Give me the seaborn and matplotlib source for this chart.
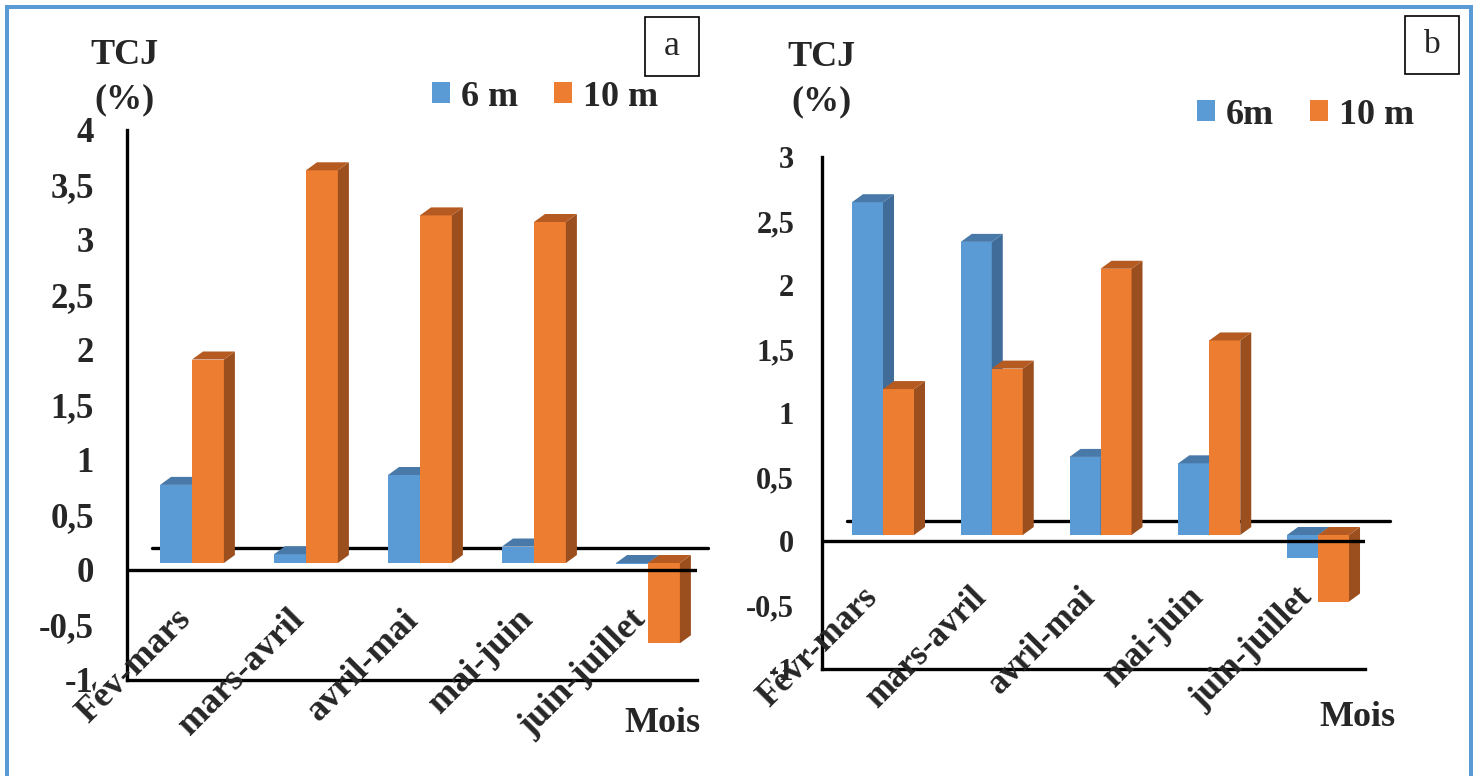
import numpy as np
import pandas as pd
import matplotlib
matplotlib.use("Agg")
import matplotlib.pyplot as plt
import seaborn as sns
from matplotlib.patches import Rectangle, Polygon
from matplotlib.transforms import ScaledTranslation

# ---------------- data ----------------
mois_a = ["Fév-mars", "mars-avril", "avril-mai", "mai-juin", "juin-juillet"]
mois_b = ["Févr-mars", "mars-avril", "avril-mai", "mai-juin", "juin-juillet"]
series_a = ["6 m", "10 m"]
series_b = ["6m", "10 m"]
tcj_a_6m = [0.71, 0.08, 0.80, 0.15, -0.01]
tcj_a_10m = [1.85, 3.57, 3.16, 3.10, -0.73]
tcj_b_6m = [2.60, 2.29, 0.61, 0.56, -0.18]
tcj_b_10m = [1.14, 1.30, 2.08, 1.52, -0.52]
yticks_a = [-1, -0.5, 0, 0.5, 1, 1.5, 2, 2.5, 3, 3.5, 4]
yticks_b = [-1, -0.5, 0, 0.5, 1, 1.5, 2, 2.5, 3]
ylabel_lines = ["TCJ", "(%)"]
xlabel = "Mois"
panel_tags = ["a", "b"]

# ---------------- style ----------------
W, H, DPI = 1480, 776, 100
BLUE, ORANGE = "#5B9BD5", "#ED7D31"
SIDE = {BLUE: "#3F6C98", ORANGE: "#9C4F1E"}
TOP = {BLUE: "#4879A8", ORANGE: "#B55B22"}
DEPTH_X, DEPTH_Y = 11, 8

sns.set_style("white")
plt.rcParams["font.family"] = ["Liberation Serif", "DejaVu Serif"]
plt.rcParams["font.weight"] = "bold"

fig = plt.figure(figsize=(W / DPI, H / DPI), dpi=DPI)


def fx(px):
    return px / W


def fy(py):
    return 1 - py / H


def add_depth(ax, container, color, lift, z):
    tr = ax.transData + ScaledTranslation(0, lift / DPI, fig.dpi_scale_trans)
    p0 = ax.transData.transform((0, 0))
    p1 = ax.transData.transform((1, 1))
    ddx = DEPTH_X / (p1[0] - p0[0])
    ddy = DEPTH_Y / (p1[1] - p0[1])
    for bar in container.patches:
        bar.set_transform(tr)
        bar.set_zorder(z)
        x, w = bar.get_x(), bar.get_width()
        ya, yb = bar.get_y(), bar.get_y() + bar.get_height()
        y0, y1 = min(ya, yb), max(ya, yb)
        side = Polygon([(x + w, y0), (x + w, y1), (x + w + ddx, y1 + ddy), (x + w + ddx, y0 + ddy)],
                       closed=True, fc=SIDE[color], ec="none", transform=tr, zorder=z)
        top = Polygon([(x, y1), (x + w, y1), (x + w + ddx, y1 + ddy), (x + ddx, y1 + ddy)],
                      closed=True, fc=TOP[color], ec="none", transform=tr, zorder=z)
        ax.add_patch(side)
        ax.add_patch(top)


def panel(box_px, ylim, xlim, mois, series, v6, v10, yticks, tick_fs, tick_pad,
          width, lift, floor_off, floor_end_px, label_off, label_fs, legend_px, title_px,
          mois_px, tag_box, tag_fs):
    l, t, r, b = box_px
    ax = fig.add_axes([fx(l), fy(b), fx(r) - fx(l), fy(t) - fy(b)])
    df = pd.DataFrame({
        "Mois": mois * 2,
        "TCJ": list(v6) + list(v10),
        "Profondeur": [series[0]] * len(mois) + [series[1]] * len(mois),
    })
    sns.barplot(data=df, x="Mois", y="TCJ", hue="Profondeur", order=mois, hue_order=series,
                palette=[BLUE, ORANGE], width=width, saturation=1, linewidth=0, ax=ax,
                legend=True, errorbar=None)
    ax.set_xlim(*xlim)
    ax.set_ylim(*ylim)
    ax.set_autoscale_on(False)
    add_depth(ax, ax.containers[0], BLUE, lift, 2.0)
    add_depth(ax, ax.containers[1], ORANGE, lift, 2.2)
    ax.set_xlim(*xlim)
    ax.set_ylim(*ylim)

    # axis lines
    for s in ["top", "right"]:
        ax.spines[s].set_visible(False)
    for s in ["left", "bottom"]:
        ax.spines[s].set_linewidth(2.4)
        ax.spines[s].set_color("black")
    ax.axhline(0, color="black", lw=2.4, zorder=5)
    ftr = ax.transData + ScaledTranslation(floor_off[0] / DPI, floor_off[1] / DPI, fig.dpi_scale_trans)
    p0 = ax.transData.transform((0, 0))
    p1 = ax.transData.transform((1, 1))
    xend = xlim[1] + floor_end_px / (p1[0] - p0[0])
    ax.plot([xlim[0], xend], [0, 0], color="black", lw=2.4, transform=ftr, zorder=1.5,
            solid_capstyle="round", clip_on=False)

    # ticks
    ax.set_yticks(yticks)
    ax.set_yticklabels([f"{v:g}".replace(".", ",") for v in yticks], fontsize=tick_fs,
                       fontweight="bold")
    ax.tick_params(axis="y", length=0, pad=tick_pad)
    ax.set_xticks([])
    ax.set_xlabel("")
    ax.set_ylabel("")
    ltr = ax.transData + ScaledTranslation(label_off[0] / DPI, label_off[1] / DPI, fig.dpi_scale_trans)
    for i, m in enumerate(mois):
        ax.text(i, 0, m, rotation=45, rotation_mode="anchor", ha="right", va="top",
                fontsize=label_fs, fontweight="bold", transform=ltr, clip_on=False, zorder=6)

    # legend
    leg = ax.get_legend()
    handles = leg.legend_handles
    labels = [t.get_text() for t in leg.get_texts()]
    leg.remove()
    ax.legend(handles, labels, loc="center left", bbox_to_anchor=(fx(legend_px[0]), fy(legend_px[1])),
              bbox_transform=fig.transFigure, ncol=2, frameon=False,
              prop={"weight": "bold", "size": 26}, handlelength=0.5, handleheight=0.5,
              handletextpad=0.3, columnspacing=1.0, borderpad=0, borderaxespad=0)

    # titles
    fig.text(fx(title_px[0]), fy(title_px[1]), ylabel_lines[0], ha="center", va="center",
             fontsize=26, fontweight="bold")
    fig.text(fx(title_px[0]), fy(title_px[2]), ylabel_lines[1], ha="center", va="center",
             fontsize=26, fontweight="bold")
    fig.text(fx(mois_px[0]), fy(mois_px[1]), xlabel, ha="center", va="center",
             fontsize=26, fontweight="bold")
    # tag box
    tl, tt, tr_, tb = tag_box[:4]
    fig.patches.append(Rectangle((fx(tl), fy(tb)), fx(tr_) - fx(tl), fy(tt) - fy(tb), fill=False,
                                 ec="black", lw=1.2, transform=fig.transFigure))
    fig.text(fx((tl + tr_) / 2), fy((tt + tb) / 2), tag_box[4], ha="center", va="center",
             fontsize=tag_fs, fontweight="normal")
    return ax


panel((127, 130, 697, 680), (-1, 4), (-0.57, 4.43), mois_a, series_a, tcj_a_6m, tcj_a_10m,
      yticks_a, 25, 24, 0.56, 7, (25, 22), -14, (-18, -33), 26, (432, 97), (124, 56, 100),
      (662, 724), (645, 17, 699, 76, panel_tags[0]), 26)
panel((822, 157, 1365, 669), (-1, 3), (-0.561, 4.432), mois_b, series_b, tcj_b_6m, tcj_b_10m,
      yticks_b, 22, 20, 0.57, 6, (25, 20), 0, (-22, -40), 25, (1197, 115), (821, 57, 102),
      (1357, 717), (1405, 16, 1459, 74, panel_tags[1]), 24)

# outer light-blue frame
fig.patches.append(Rectangle((fx(7), fy(800)), fx(1471) - fx(7), fy(7) - fy(800), fill=False,
                             ec=BLUE, lw=2.9, transform=fig.transFigure))

fig.savefig("out.png", dpi=DPI)
